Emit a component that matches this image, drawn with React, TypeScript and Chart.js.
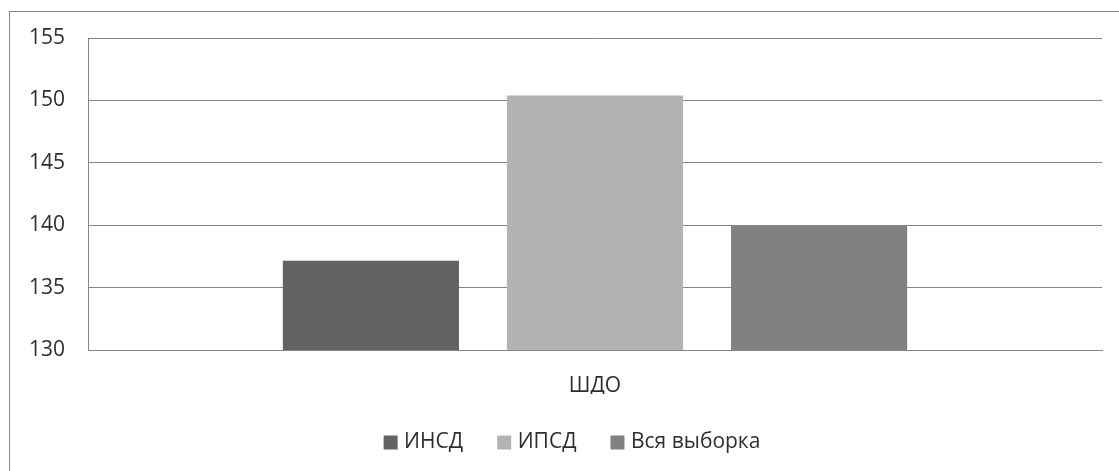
import React, { useEffect, useRef } from "react";
import { Chart, registerables } from "chart.js";

Chart.register(...registerables);

const categories = ["ШДО"];
const seriesNames = ["ИНСД", "ИПСД", "Вся выборка"];
const insdValues = [137.15];
const ipsdValues = [150.4];
const allValues = [139.95];
const seriesColors = ["#626262", "#b3b3b3", "#818181"];
const yMin = 130;
const yMax = 155;
const yStep = 5;

const FONT = "'Open Sans', 'Noto Sans', sans-serif";
const FONT_SIZE = 21;
const TEXT = "#2e2e2e";
const LINE = "#868686";

// Outer frame around the chart, its right and bottom edges run past the canvas.
const framePlugin = {
  id: "frame",
  beforeDraw(chart: Chart) {
    const ctx = chart.ctx;
    ctx.save();
    ctx.fillStyle = "#ffffff";
    ctx.fillRect(0, 0, chart.width, chart.height);
    ctx.strokeStyle = LINE;
    ctx.lineWidth = 1;
    ctx.strokeRect(9.5, 11.5, chart.width + 50, chart.height + 50);
    ctx.restore();
  },
};

// Nudges the legend row a little to the right of the default centring.
const legendShift = {
  id: "legendShift",
  afterLayout(chart: any) {
    const lg = chart.legend;
    if (lg) {
      lg.left += 11;
      lg.right += 11;
    }
  },
};

export default function App() {
  const ref = useRef<HTMLCanvasElement | null>(null);

  useEffect(() => {
    if (!ref.current) return;
    const values = [insdValues, ipsdValues, allValues];
    const chart = new Chart(ref.current, {
      type: "bar",
      data: {
        labels: categories,
        datasets: seriesNames.map((name, i) => ({
          label: name,
          data: values[i],
          backgroundColor: seriesColors[i],
          borderWidth: 0,
          categoryPercentage: 0.663,
          barPercentage: 0.786,
        })),
      },
      options: {
        animation: false,
        responsive: false,
        maintainAspectRatio: false,
        layout: { padding: { left: 24, right: 17, top: 38, bottom: 8 } },
        plugins: {
          tooltip: { enabled: false },
          legend: {
            position: "bottom",
            labels: {
              font: { family: FONT, size: FONT_SIZE },
              color: TEXT,
              usePointStyle: true,
              pointStyle: "rect",
              boxWidth: 6,
              boxHeight: 14,
              padding: 38,
            },
          },
        },
        scales: {
          x: {
            grid: { display: false, drawTicks: false },
            border: { display: true, color: LINE, width: 1 },
            ticks: { font: { family: FONT, size: FONT_SIZE }, color: TEXT, padding: 23 },
            afterFit(scale: any) {
              scale.height = 44;
            },
          },
          y: {
            min: yMin,
            max: yMax,
            grid: { color: LINE, drawTicks: false, lineWidth: 1 },
            border: { display: true, color: LINE, width: 1 },
            ticks: {
              stepSize: yStep,
              font: { family: FONT, size: FONT_SIZE },
              color: TEXT,
              padding: 23,
            },
            afterFit(scale: any) {
              scale.width = 64;
            },
          },
        },
      },
      plugins: [framePlugin, legendShift],
    });
    return () => chart.destroy();
  }, []);

  return (
    <div style={{ position: "absolute", left: 0, top: 0, width: 1119, height: 471, overflow: "hidden" }}>
      <canvas ref={ref} width={1119} height={471} style={{ display: "block" }} />
    </div>
  );
}
